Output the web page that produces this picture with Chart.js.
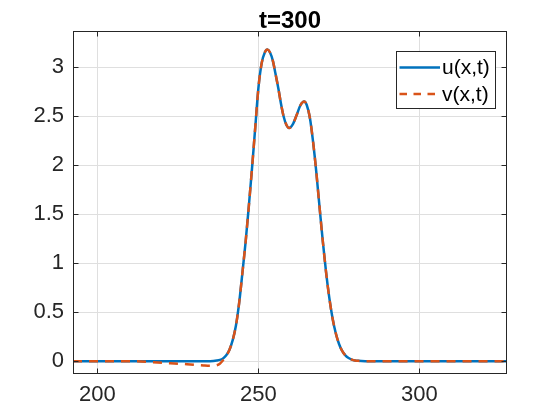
<!DOCTYPE html>
<html>
<head>
<meta charset="utf-8">
<script src="https://cdn.jsdelivr.net/npm/chart.js@4.4.1/dist/chart.umd.min.js"></script>
<style>
  html, body { margin: 0; padding: 0; background: #ffffff; }
  #wrap { width: 560px; height: 420px; }
</style>
</head>
<body>
<div id="wrap"><canvas id="c" width="560" height="420"></canvas></div>
<script>
const titleText = "t=300";
const seriesNames = ["u(x,t)", "v(x,t)"];
const xTicks = [200, 250, 300];
const yTicks = [0, 0.5, 1, 1.5, 2, 2.5, 3];
const xRange = [192.4, 327.2];
const yRange = [-0.125, 3.37];

const xVals = [192.4, 200, 205, 212, 217, 222.6, 227.8, 233, 235, 236,
  237, 238, 239, 240, 241, 242, 243, 244, 245, 246,
  247, 248, 249, 250, 251, 252, 252.8, 253.6, 254.5, 255.3,
  256.2, 257.0, 257.8, 258.7, 259.5, 260.7, 261.9, 263.0, 264.2, 265,
  266, 267, 268, 269, 270, 271, 272, 273, 274, 275,
  276, 277, 278, 279, 280, 281, 282, 284, 290, 300,
  310, 320, 327.2];

const uVals = [0, 0, 0, 0, 0, 0, 0, 0, 0.001, 0.003,
  0.007, 0.014, 0.029, 0.061, 0.118, 0.215, 0.362, 0.593, 0.896, 1.214,
  1.578, 1.968, 2.382, 2.793, 3.04, 3.152, 3.18, 3.15, 3.063, 2.933,
  2.78, 2.627, 2.50, 2.41, 2.38, 2.42, 2.515, 2.61, 2.65, 2.615,
  2.48, 2.23, 1.92, 1.565, 1.22, 0.909, 0.649, 0.442, 0.288, 0.179,
  0.106, 0.06, 0.033, 0.017, 0.008, 0.004, 0.002, 0, 0, 0,
  0, 0, 0];

const vVals = [0, 0, 0, 0, -0.01, -0.02, -0.03, -0.043, -0.046, -0.046,
  -0.042, -0.025, 0.01, 0.055, 0.118, 0.215, 0.362, 0.593, 0.896, 1.214,
  1.578, 1.968, 2.382, 2.793, 3.04, 3.152, 3.18, 3.15, 3.063, 2.933,
  2.78, 2.627, 2.50, 2.41, 2.38, 2.42, 2.515, 2.61, 2.65, 2.615,
  2.48, 2.23, 1.92, 1.565, 1.22, 0.909, 0.649, 0.442, 0.288, 0.179,
  0.106, 0.06, 0.033, 0.017, 0.008, 0.004, 0.002, 0, 0, 0,
  0, 0, 0];

const BLUE = "#0072BD";
const ORANGE = "#D95319";
const AXC = "#262626";
const GRIDC = "#dfdfdf";
const FONT = "'Liberation Sans', Arial, Helvetica, sans-serif";
const PLOT_DASH = [9, 7];
const LEG_DASH = [7.5, 6.5];

const toPts = (ys) => xVals.map((x, i) => ({ x: x, y: ys[i] }));

const matlabPlugin = {
  id: "matlabDecor",
  afterDraw(chart) {
    const ctx = chart.ctx;
    const a = chart.chartArea;
    const xs = chart.scales.x, ys = chart.scales.y;
    const L = Math.round(a.left) + 0.5, R = Math.round(a.right) - 0.5;
    const T = Math.round(a.top) + 0.5, B = Math.round(a.bottom) - 0.5;
    ctx.save();
    ctx.strokeStyle = AXC;
    ctx.lineWidth = 1;
    ctx.setLineDash([]);
    const tl = 5;
    ctx.beginPath();
    xTicks.forEach(v => {
      const px = Math.round(xs.getPixelForValue(v)) + 0.5;
      ctx.moveTo(px, B); ctx.lineTo(px, B - tl);
      ctx.moveTo(px, T); ctx.lineTo(px, T + tl);
    });
    yTicks.forEach(v => {
      const py = Math.round(ys.getPixelForValue(v)) + 0.5;
      ctx.moveTo(L, py); ctx.lineTo(L + tl, py);
      ctx.moveTo(R, py); ctx.lineTo(R - tl, py);
    });
    ctx.stroke();
    ctx.strokeRect(L, T, R - L, B - T);

    ctx.fillStyle = "#000000";
    ctx.font = "bold 24px " + FONT;
    ctx.textAlign = "center";
    ctx.textBaseline = "middle";
    ctx.fillText(titleText, (a.left + a.right) / 2, 21);

    const bx = 396.5, by = 51.5, bw = 99, bh = 57;
    ctx.fillStyle = "#ffffff";
    ctx.fillRect(bx, by, bw, bh);
    ctx.strokeStyle = AXC;
    ctx.lineWidth = 1;
    ctx.strokeRect(bx, by, bw, bh);
    const rows = [
      { y: 67.5, color: BLUE, dash: [], label: chart.data.datasets[0].label },
      { y: 94, color: ORANGE, dash: LEG_DASH, label: chart.data.datasets[1].label }
    ];
    rows.forEach(r => {
      ctx.beginPath();
      ctx.strokeStyle = r.color;
      ctx.lineWidth = 2.5;
      ctx.setLineDash(r.dash);
      ctx.moveTo(399.5, r.y);
      ctx.lineTo(440, r.y);
      ctx.stroke();
      ctx.setLineDash([]);
      ctx.fillStyle = "#000000";
      ctx.font = "21px " + FONT;
      ctx.textAlign = "left";
      ctx.textBaseline = "middle";
      ctx.fillText(r.label, 442, r.y + 1);
    });
    ctx.restore();
  }
};

new Chart(document.getElementById("c"), {
  type: "line",
  data: {
    datasets: [
      {
        label: seriesNames[0],
        data: toPts(uVals),
        borderColor: BLUE,
        borderWidth: 2.5,
        pointRadius: 0,
        fill: false,
        cubicInterpolationMode: "monotone",
        order: 2
      },
      {
        label: seriesNames[1],
        data: toPts(vVals),
        borderColor: ORANGE,
        borderWidth: 2.5,
        borderDash: PLOT_DASH,
        pointRadius: 0,
        fill: false,
        cubicInterpolationMode: "monotone",
        order: 1
      }
    ]
  },
  options: {
    responsive: false,
    animation: false,
    devicePixelRatio: 1,
    layout: { padding: { left: 0, top: 31, right: 53, bottom: 0 } },
    plugins: {
      legend: { display: false },
      title: { display: false },
      tooltip: { enabled: false }
    },
    scales: {
      x: {
        type: "linear",
        min: xRange[0],
        max: xRange[1],
        afterBuildTicks: (s) => { s.ticks = xTicks.map(v => ({ value: v })); },
        afterFit: (s) => { s.height = 46.5; },
        grid: { color: GRIDC, lineWidth: 1, drawTicks: false },
        border: { display: false },
        ticks: {
          color: AXC,
          font: { family: FONT, size: 22 },
          padding: 8,
          maxRotation: 0,
          callback: (v) => String(v)
        }
      },
      y: {
        type: "linear",
        min: yRange[0],
        max: yRange[1],
        afterBuildTicks: (s) => { s.ticks = yTicks.map(v => ({ value: v })); },
        afterFit: (s) => { s.width = 73; },
        grid: { color: GRIDC, lineWidth: 1, drawTicks: false },
        border: { display: false },
        ticks: {
          color: AXC,
          font: { family: FONT, size: 22 },
          padding: 9,
          callback: (v) => String(v)
        }
      }
    }
  },
  plugins: [matlabPlugin]
});
</script>
</body>
</html>
